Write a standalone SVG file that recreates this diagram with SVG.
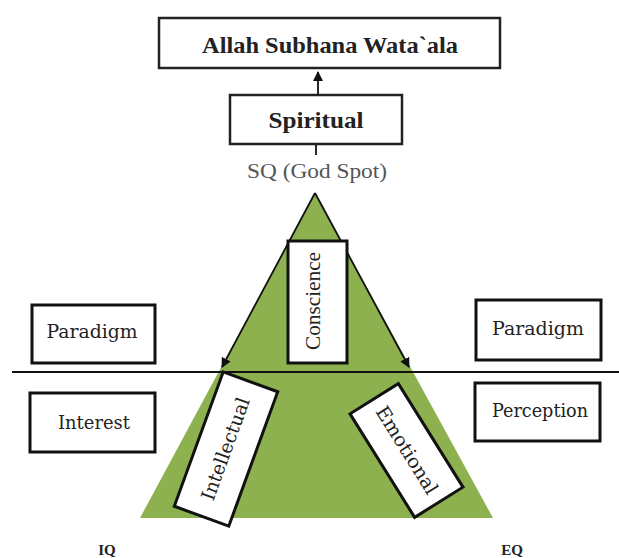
<svg xmlns="http://www.w3.org/2000/svg" width="619" height="558" viewBox="0 0 619 558">
<defs>
<marker id="ah" markerWidth="10" markerHeight="10" refX="9" refY="5" orient="auto" markerUnits="userSpaceOnUse">
<path d="M0,0 L10,5 L0,10 z" fill="#111"/>
</marker>
<style>
.box{fill:#fff;stroke:#111;stroke-width:3}
.bx2{fill:#fff;stroke:#222;stroke-width:2.5}
.t{font-family:"DejaVu Serif","Liberation Serif",serif;font-size:19px;fill:#222;text-anchor:middle}
.b{font-family:"Liberation Serif","DejaVu Serif",serif;font-weight:bold;fill:#222;text-anchor:middle}
.c{font-family:"Liberation Serif",serif;font-size:21px;fill:#222;text-anchor:middle}
.ln{stroke:#111;stroke-width:1.8;fill:none}
</style>
</defs>
<rect width="619" height="558" fill="#fff"/>
<polygon points="315,193 140,518 493,518" fill="#8DB14E"/>
<g id="connectors">
<line class="ln" x1="318" y1="94" x2="318" y2="72" marker-end="url(#ah)"/>
<line class="ln" x1="316" y1="144" x2="316" y2="155"/>
<line class="ln" x1="315" y1="193" x2="222" y2="367" marker-end="url(#ah)"/>
<line class="ln" x1="315" y1="193" x2="409" y2="367" marker-end="url(#ah)"/>
<line class="ln" x1="12" y1="372" x2="619" y2="372"/>
</g>
<g id="allah">
<rect class="bx2" x="159" y="18" width="341" height="50"/>
<text class="b" x="330" y="53" font-size="23" textLength="256" lengthAdjust="spacingAndGlyphs">Allah Subhana Wata`ala</text>
</g>
<g id="spiritual">
<rect class="bx2" x="230" y="95" width="172" height="49"/>
<text class="b" x="316" y="128" font-size="23" textLength="95" lengthAdjust="spacingAndGlyphs">Spiritual</text>
</g>
<g id="sq">
<text x="317" y="178" font-family="Liberation Serif, serif" font-size="20" fill="#555" text-anchor="middle" textLength="140" lengthAdjust="spacingAndGlyphs">SQ (God Spot)</text>
</g>
<g id="conscience">
<rect class="box" x="288" y="241" width="59" height="122"/>
<text class="c" transform="translate(313,301) rotate(-90)" y="7" textLength="98" lengthAdjust="spacingAndGlyphs">Conscience</text>
</g>
<g id="paradigm-left">
<rect class="box" x="32" y="305" width="123" height="58"/>
<text class="t" x="92" y="338" textLength="91" lengthAdjust="spacingAndGlyphs">Paradigm</text>
</g>
<g id="paradigm-right">
<rect class="box" x="476" y="300" width="125" height="60"/>
<text class="t" x="538" y="335" textLength="92" lengthAdjust="spacingAndGlyphs">Paradigm</text>
</g>
<g id="interest">
<rect class="box" x="30" y="393" width="125" height="59"/>
<text class="t" x="94" y="429" textLength="72" lengthAdjust="spacingAndGlyphs">Interest</text>
</g>
<g id="perception">
<rect class="box" x="475" y="383" width="125" height="58"/>
<text class="t" x="540" y="417" textLength="96" lengthAdjust="spacingAndGlyphs">Perception</text>
</g>
<g id="intellectual" transform="translate(226,449) rotate(-70)">
<rect class="box" x="-71.5" y="-29" width="143" height="58"/>
<text class="t" x="0" y="6" font-size="18" textLength="108" lengthAdjust="spacingAndGlyphs">Intellectual</text>
</g>
<g id="emotional" transform="translate(406.5,450.5) rotate(58)">
<rect class="box" x="-61" y="-28.5" width="122" height="57"/>
<text class="t" x="0" y="6" font-size="18" textLength="100" lengthAdjust="spacingAndGlyphs">Emotional</text>
</g>
<g id="iq"><text class="b" x="107" y="555" font-size="15">IQ</text></g>
<g id="eq"><text class="b" x="512" y="555" font-size="15">EQ</text></g>
</svg>
